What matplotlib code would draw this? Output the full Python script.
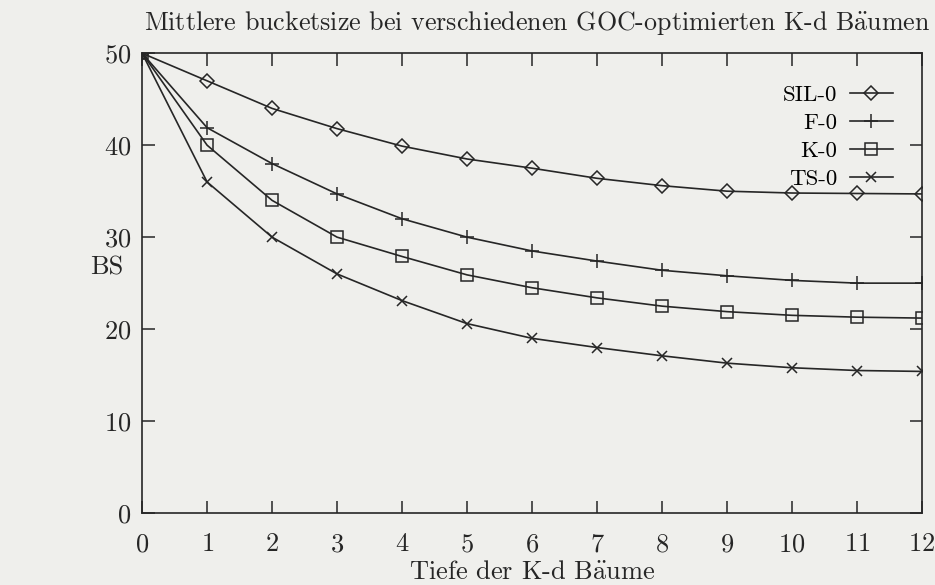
import matplotlib
matplotlib.use("Agg")
import matplotlib.pyplot as plt
import numpy as np

plt.rcParams['font.family'] = ['cmr10', 'DejaVu Serif']
plt.rcParams['mathtext.fontset'] = 'cm'
plt.rcParams['axes.formatter.use_mathtext'] = True

# data
tiefe = [0, 1, 2, 3, 4, 5, 6, 7, 8, 9, 10, 11, 12]
sil_0 = [50, 47.0, 44.0, 41.8, 39.9, 38.5, 37.5, 36.4, 35.6, 35.0, 34.8, 34.75, 34.7]
f_0 = [50, 41.9, 38.0, 34.7, 32.0, 30.0, 28.5, 27.4, 26.4, 25.8, 25.3, 25.0, 25.0]
k_0 = [50, 40.0, 34.0, 30.0, 27.9, 25.9, 24.5, 23.4, 22.5, 21.9, 21.5, 21.3, 21.2]
ts_0 = [50, 36.0, 30.0, 26.0, 23.1, 20.6, 19.0, 18.0, 17.1, 16.3, 15.8, 15.5, 15.4]

series = [("SIL-0", sil_0, "D", 7.5), ("F-0", f_0, "+", 9.5),
          ("K-0", k_0, "s", 8), ("TS-0", ts_0, "x", 7.5)]

ae = r"$\ddot{\mathrm{a}}$"  # umlaut drawn in computer modern

ink = '#262626'
bg = '#efefec'
fig = plt.figure(figsize=(9.35, 5.85), dpi=100, facecolor=bg)
ax = fig.add_axes([0.152, 0.123, 0.834, 0.786], facecolor=bg)

for name, vals, m, ms in series:
    ax.plot(tiefe, vals, color=ink, lw=1.2, marker=m, markersize=ms,
            markerfacecolor='none', markeredgecolor=ink, markeredgewidth=1.1,
            label=name)

ax.set_xlim(0, 12)
ax.set_ylim(0, 50)
ax.set_xticks(range(0, 13))
ax.set_yticks(range(0, 51, 10))
ax.tick_params(direction='in', length=9, width=1.1, top=True, right=True,
               labelsize=19, colors=ink)
ax.tick_params(axis='x', pad=14)
ax.tick_params(axis='y', pad=8)
for s in ax.spines.values():
    s.set_linewidth(1.2)
    s.set_color(ink)

ax.set_xlabel("Tiefe der K-d B" + ae + "ume", fontsize=19, labelpad=3, color=ink)
ax.set_ylabel("BS", fontsize=19, rotation=0, va='center', ha='center', color=ink)
ax.yaxis.set_label_coords(-0.045, 0.533)
ax.set_title("Mittlere bucketsize bei verschiedenen GOC-optimierten K-d B" + ae + "umen",
             fontsize=18.7, pad=17, color=ink, x=0.507)

leg = ax.legend(loc='upper right', markerfirst=False, frameon=False, fontsize=16.5,
                handlelength=1.9, handletextpad=0.55, labelspacing=0.36,
                borderpad=0, borderaxespad=0, bbox_to_anchor=(0.963, 0.932))
for t in leg.get_texts():
    t.set_ha('right')

fig.savefig("out.png", dpi=100, facecolor=bg)
